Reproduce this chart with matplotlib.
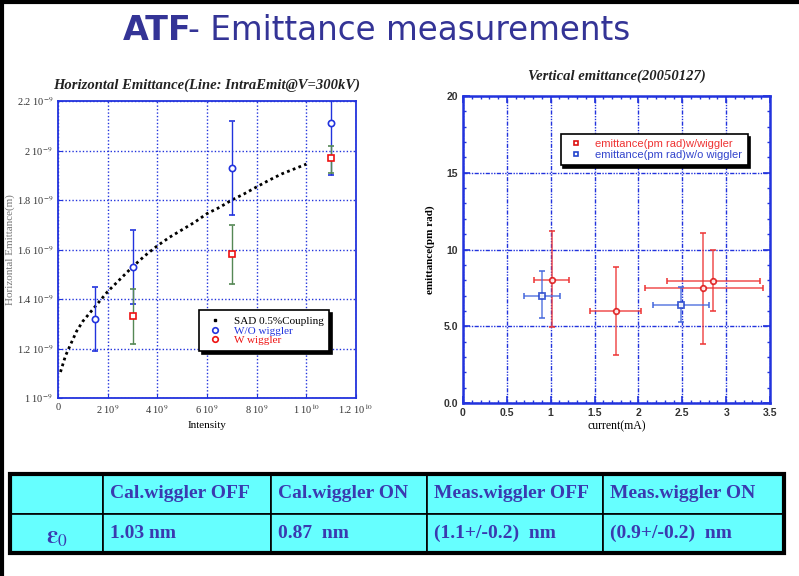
import matplotlib
matplotlib.use('Agg')
import matplotlib.pyplot as plt
from matplotlib.patches import Rectangle
from matplotlib.lines import Line2D
from matplotlib.ticker import MultipleLocator

# ---- left panel: horizontal emittance (values in 1e-9 m), intensity in 1e9 ----
sad_x = [0.1, 0.3, 0.5, 0.75, 1.0, 1.5, 2.0, 2.5, 3.0, 3.5, 4.0, 4.5, 5.0,
         5.5, 6.0, 6.5, 7.0, 7.5, 8.0, 8.5, 9.0, 9.5, 10.0]
sad_y = [1.105, 1.17, 1.215, 1.27, 1.31, 1.37, 1.43, 1.48, 1.53, 1.575, 1.615,
         1.65, 1.68, 1.71, 1.745, 1.77, 1.80, 1.825, 1.853, 1.88, 1.905, 1.925, 1.945]

wo_x = [1.5, 3.0, 7.0, 11.0]
wo_y = [1.32, 1.53, 1.93, 2.11]
wo_lo = [1.19, 1.38, 1.74, 1.90]
wo_hi = [1.45, 1.68, 2.12, 2.32]

w_x = [3.0, 7.0, 11.0]
w_y = [1.33, 1.58, 1.97]
w_lo = [1.22, 1.46, 1.91]
w_hi = [1.44, 1.70, 2.02]

h_xticks = [0, 2, 4, 6, 8, 10, 12]
h_xlabels = ['0', '2 10$^{9}$', '4 10$^{9}$', '6 10$^{9}$', '8 10$^{9}$',
             '1 10$^{10}$', '1.2 10$^{10}$']
h_yticks = [1.0, 1.2, 1.4, 1.6, 1.8, 2.0, 2.2]
h_ylabels = ['1 10$^{-9}$', '1.2 10$^{-9}$', '1.4 10$^{-9}$', '1.6 10$^{-9}$',
             '1.8 10$^{-9}$', '2 10$^{-9}$', '2.2 10$^{-9}$']

# ---- right panel: vertical emittance ----
vw_x = [1.01, 1.74, 2.74, 2.85]
vw_y = [8.03, 5.97, 7.46, 7.98]
vw_xlo = [0.81, 1.45, 2.07, 2.33]
vw_xhi = [1.21, 2.03, 3.42, 3.39]
vw_ylo = [4.92, 3.12, 3.86, 5.97]
vw_yhi = [11.2, 8.85, 11.08, 9.98]

vo_x = [0.905, 2.49]
vo_y = [7.0, 6.4]
vo_xlo = [0.70, 2.17]
vo_xhi = [1.11, 2.81]
vo_ylo = [5.53, 5.27]
vo_yhi = [8.6, 7.53]

v_yticks = [0, 5, 10, 15, 20]
v_ylabels = ['0.0', '5.0', '10', '15', '20']
v_xticks = [0, 0.5, 1, 1.5, 2, 2.5, 3, 3.5]
v_xlabels = ['0', '0.5', '1', '1.5', '2', '2.5', '3', '3.5']

# ---- table ----
col_head = ['', 'Cal.wiggler OFF', 'Cal.wiggler ON', 'Meas.wiggler OFF', 'Meas.wiggler ON']
row_vals = ['', '1.03 nm', '0.87  nm', '(1.1+/-0.2)  nm', '(0.9+/-0.2)  nm']
col_px = [10, 103, 271, 427, 603, 784]

W, H = 799, 576
fig = plt.figure(figsize=(W / 100, H / 100), dpi=100)
fig.patch.set_facecolor('white')
plt.rcParams['mathtext.fontset'] = 'stix'

def px_axes(x0, y0, x1, y1):
    return fig.add_axes([x0 / W, 1 - y1 / H, (x1 - x0) / W, (y1 - y0) / H])

# slide border (top and left)
fig.add_artist(Line2D([0, 1], [1 - 1.5 / H] * 2, color='black', lw=3, transform=fig.transFigure))
fig.add_artist(Line2D([1.5 / W] * 2, [0, 1], color='black', lw=3, transform=fig.transFigure))

# title
title_col = '#343496'
fig.text(123 / W, 1 - 31 / H, 'ATF', fontsize=24, fontweight='bold', color=title_col,
         family='DejaVu Sans', va='center', ha='left')
fig.text(188 / W, 1 - 31 / H, '- Emittance measurements', fontsize=23.5, color=title_col,
         family='DejaVu Sans', va='center', ha='left')

blue = '#2233dd'
serif = 'Liberation Serif'
shadow = {'color': 'black', 'alpha': 1.0}

# ---------------- left panel ----------------
ax = px_axes(58, 101, 356, 398)
ax.set_xlim(0, 12)
ax.set_ylim(1.0, 2.2)
ax.grid(True, color=blue, linestyle=(0, (1, 1.5)), linewidth=1.0)
for s in ax.spines.values():
    s.set_color(blue)
    s.set_linewidth(1.3)
ax.tick_params(direction='in', length=3, color=blue, labelsize=7.5)
ax.set_xticks(h_xticks)
ax.set_xticklabels(h_xlabels, family=serif, color='#333333')
ax.set_yticks(h_yticks)
ax.set_yticklabels(h_ylabels, family=serif, color='#333333')
ax.plot(sad_x, sad_y, color='black', linestyle=(0, (1, 1.2)), linewidth=2.0, zorder=3)
ax.errorbar(wo_x, wo_y, yerr=[[y - l for y, l in zip(wo_y, wo_lo)], [h - y for y, h in zip(wo_y, wo_hi)]],
            fmt='o', ms=4.5, mfc='white', mec=blue, mew=1.2, ecolor=blue, elinewidth=1,
            capsize=2, zorder=4, clip_on=True)
ax.errorbar(w_x, w_y, yerr=[[y - l for y, l in zip(w_y, w_lo)], [h - y for y, h in zip(w_y, w_hi)]],
            fmt='s', ms=4.5, mfc='white', mec='#ee1111', mew=1.2, ecolor='#558855', elinewidth=1,
            capsize=2, zorder=4)
ax.set_title('Horizontal Emittance(Line: IntraEmit@V=300kV)', family=serif, style='italic',
             fontweight='bold', fontsize=10.5, color='#222222', pad=9)
ax.set_xlabel('Intensity', family=serif, fontsize=8, labelpad=3)
ax.set_ylabel('Horizontal Emittance(m)', family=serif, fontsize=8, color='#777777', labelpad=1)

handles = [Line2D([], [], marker='s', ms=2, color='black', linestyle='none'),
           Line2D([], [], marker='o', ms=4, mfc='white', mec=blue, mew=1.2, linestyle='none'),
           Line2D([], [], marker='o', ms=4, mfc='white', mec='#ee1111', mew=1.2, linestyle='none')]
leg = ax.legend(handles, ['SAD 0.5%Coupling', 'W/O wiggler', 'W wiggler'],
                loc='lower left', bbox_to_anchor=(0.455, 0.14), frameon=True, fancybox=False,
                shadow=shadow, edgecolor='black', prop={'family': serif, 'size': 8},
                handlelength=1.8, labelspacing=0.0, borderpad=0.5)
leg.get_frame().set_linewidth(1.2)
for t, c in zip(leg.get_texts(), ['black', blue, '#ee1111']):
    t.set_color(c)

# ---------------- right panel ----------------
bx = px_axes(463, 96, 770, 403)
bx.set_xlim(0, 3.5)
bx.set_ylim(0, 20)
bx.grid(True, which='major', color=blue, linestyle=(0, (3, 1, 1, 1, 1, 1)), linewidth=1.0)
for s in bx.spines.values():
    s.set_color(blue)
    s.set_linewidth(1.8)
bx.xaxis.set_minor_locator(MultipleLocator(0.1))
bx.yaxis.set_minor_locator(MultipleLocator(1))
bx.tick_params(which='both', direction='in', top=True, right=True, color=blue)
bx.tick_params(which='major', length=5, width=1.2, labelsize=7.5)
bx.tick_params(which='minor', length=2.5, width=1)
bx.set_xticks(v_xticks)
bx.set_xticklabels(v_xlabels, family='Liberation Sans', fontweight='bold', color='#333333')
bx.set_yticks(v_yticks)
bx.set_yticklabels(v_ylabels, family='Liberation Sans', fontweight='bold', color='#333333')

red2 = '#ee3333'
bx.errorbar(vw_x, vw_y,
            xerr=[[x - l for x, l in zip(vw_x, vw_xlo)], [h - x for x, h in zip(vw_x, vw_xhi)]],
            yerr=[[y - l for y, l in zip(vw_y, vw_ylo)], [h - y for y, h in zip(vw_y, vw_yhi)]],
            fmt='o', ms=4, mfc='white', mec='#dd1111', mew=1.3, ecolor=red2, elinewidth=1.1,
            capsize=2, alpha=0.85, zorder=4)
bx.errorbar(vo_x, vo_y,
            xerr=[[x - l for x, l in zip(vo_x, vo_xlo)], [h - x for x, h in zip(vo_x, vo_xhi)]],
            yerr=[[y - l for y, l in zip(vo_y, vo_ylo)], [h - y for y, h in zip(vo_y, vo_yhi)]],
            fmt='s', ms=4, mfc='white', mec='#2244cc', mew=1.3, ecolor='#4466dd', elinewidth=1.1,
            capsize=2, alpha=0.85, zorder=4)
bx.set_title('Vertical emittance(20050127)', family=serif, style='italic', fontweight='bold',
             fontsize=10.5, color='#222222', pad=12)
bx.set_xlabel('current(mA)', family=serif, fontsize=8.5, labelpad=2)
bx.set_ylabel('emittance(pm rad)', family=serif, fontweight='bold', fontsize=8, labelpad=6)

handles2 = [Line2D([], [], marker='s', ms=3.5, mfc='white', mec='#dd1111', mew=1.2, linestyle='none'),
            Line2D([], [], marker='s', ms=3.5, mfc='white', mec='#2244cc', mew=1.2, linestyle='none')]
leg2 = bx.legend(handles2, ['emittance(pm rad)w/wiggler', 'emittance(pm rad)w/o wiggler'],
                 loc='upper right', bbox_to_anchor=(0.945, 0.895), frameon=True, fancybox=False,
                 shadow=shadow, edgecolor='black', prop={'family': 'Liberation Sans', 'size': 8},
                 handlelength=1.8, labelspacing=0.05, borderpad=0.5)
leg2.get_frame().set_linewidth(1.2)
for t, c in zip(leg2.get_texts(), ['#ee3333', '#3344cc']):
    t.set_color(c)

# ---------------- table ----------------
tx = px_axes(col_px[0], 474, col_px[-1], 553)
tx.set_xlim(col_px[0], col_px[-1])
tx.set_ylim(2, 0)
tx.axis('off')
cyan = '#66ffff'
txt_col = '#3a3ab0'
for r, row in enumerate([col_head, row_vals]):
    for c, label in enumerate(row):
        tx.add_patch(Rectangle((col_px[c], r), col_px[c + 1] - col_px[c], 1,
                               facecolor=cyan, edgecolor='black', linewidth=1.2))
        if label:
            tx.text(col_px[c] + 7, r + 0.5, label, ha='left', va='center',
                    family=serif, fontweight='bold', fontsize=14, color=txt_col)
# epsilon_0 row label
tx.text((col_px[0] + col_px[1]) / 2, 1.6, r'$\mathbf{\varepsilon}_{0}$', ha='center', va='center',
        fontsize=18, color=txt_col)
tx.add_patch(Rectangle((col_px[0], 0), col_px[-1] - col_px[0], 2, facecolor='none',
                       edgecolor='black', linewidth=3, clip_on=False))

fig.savefig('out.png', dpi=100)
